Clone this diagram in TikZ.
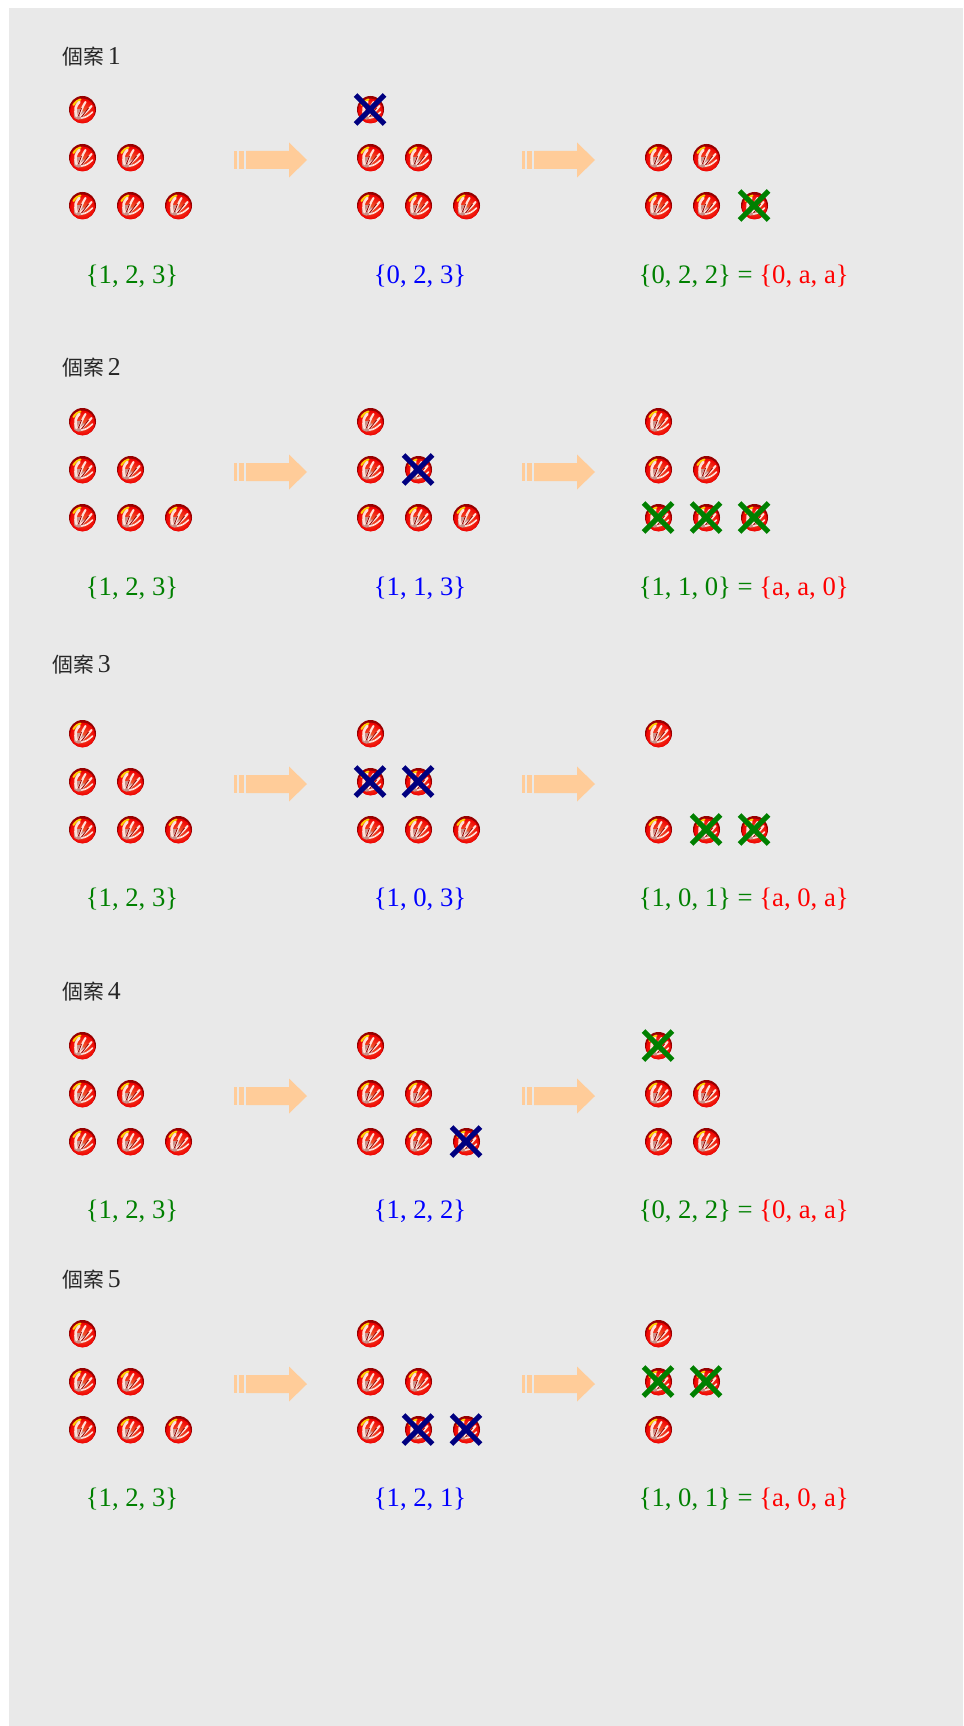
\documentclass[tikz,border=0pt]{standalone}
\usepackage{fontspec}
\setmainfont{Liberation Serif}
\newfontfamily\cjk{Noto Sans CJK TC}
\definecolor{pagegray}{HTML}{E9E9E9}
\definecolor{arrowpeach}{HTML}{FFCC99}
\definecolor{rimred}{HTML}{980000}
\definecolor{ballred}{HTML}{F00000}
\definecolor{ballorange}{HTML}{F06030}
\definecolor{streakpink}{HTML}{FFE0D8}
\definecolor{patchmauve}{HTML}{C89088}
\definecolor{crossnavy}{HTML}{000080}
\definecolor{crossgreen}{HTML}{008000}
\definecolor{setgreen}{HTML}{008000}
\tikzset{
	ball/.pic={
		\fill[rimred] (0,-0.5) circle (13.5);
		\shade[inner color=ballorange, outer color=ballred] (0,1) circle (12.5);
		\draw[yellow!70!orange, line width=1.5pt, line cap=round] (-9,-5) .. controls (-7,-8) and (-5,-10) .. (-2,-10.5);
		\fill[patchmauve] (-8,8) .. controls (-10,3) and (-7,-2) .. (-3,-1) .. controls (2,0) and (4,5) .. (0,9) .. controls (-3,10) and (-6,10) .. cycle;
		\draw[streakpink, line width=2pt, line cap=round] (-6,6) .. controls (-8,0) and (-7,-5) .. (-3,-8);
		\draw[streakpink, line width=1.6pt, line cap=round] (-3,4) .. controls (-1,0) and (1,-5) .. (3,-8);
		\draw[streakpink, line width=1.6pt, line cap=round] (-2,6) .. controls (2,4) and (6,0) .. (9,-4);
		\draw[streakpink, line width=1.2pt, line cap=round] (-1,8) .. controls (3,8) and (7,5) .. (10,2);
		\draw[rimred, line width=0.6pt] (-4,6) -- (-1,-2) (-1,7) -- (6,-2);
	},
	crossmark/.pic={
		\draw[line width=3.9pt, shift={(-0.5,-0.5)}] (-14.5,-14.5) -- (14.5,14.5) (-14.5,14.5) -- (14.5,-14.5);
	},
	movearrow/.pic={
		\fill[arrowpeach] (0,-9) rectangle (3,9);
		\fill[arrowpeach] (5,-9) rectangle (10,9);
		\fill[arrowpeach] (12,-9) -- (55,-9) -- (55,-17.5) -- (73,0) -- (55,17.5) -- (55,9) -- (12,9) -- cycle;
	},
	settext/.style={font=\fontsize{20}{22}\selectfont, inner sep=0pt},
	casetext/.style={font=\fontsize{19.3}{22}\selectfont, inner sep=0pt, anchor=west, text=black!85}
}
% Balls and crosses on the grid of one drawing: column/row from 0
\newcommand{\ballset}[3]{\foreach \i/\j in {#3} {\pic at ({#1+48*\i},{#2+48*\j}) {ball};}}
\newcommand{\fullballs}[2]{\ballset{#1}{#2}{0/0,0/1,1/1,0/2,1/2,2/2}}
\newcommand{\crossset}[4]{\foreach \i/\j in {#4} {\pic[#3] at ({#1+48*\i},{#2+48*\j}) {crossmark};}}
\begin{document}
\begin{tikzpicture}[x=0.75pt, y=-0.75pt, line join=round]
	% Column positions (pixels of the reference)
	\def\xa{82.5} \def\xb{370.5} \def\xc{658.5}
	\def\ya{110} \def\yb{422} \def\yc{734} \def\yd{1046} \def\ye{1334}
	
	\useasboundingbox (0,0) rectangle (963,1726);
	\fill[pagegray] (9,8) rectangle (963,1726);
	
	% Titles, arrows and the two full drawings of each case
	\foreach \c/\y/\tx/\ty in {1/\ya/62/57, 2/\yb/62/368, 3/\yc/52/665, 4/\yd/62/992, 5/\ye/62/1280} {
		\node[casetext] (title\c) at (\tx,\ty) {{\cjk\fontsize{15.6}{18}\selectfont 個案}\kern3pt\c};
		\fullballs{\xa}{\y}
		\fullballs{\xb}{\y}
		\pic at (234,\y+50) {movearrow};
		\pic at (522,\y+50) {movearrow};
	}
	
	% Case 1
	\crossset{\xb}{\ya}{crossnavy}{0/0}
	\ballset{\xc}{\ya}{0/1,1/1,0/2,1/2,2/2}
	\crossset{\xc}{\ya}{crossgreen}{2/2}
	
	% Case 2
	\crossset{\xb}{\yb}{crossnavy}{1/1}
	\fullballs{\xc}{\yb}
	\crossset{\xc}{\yb}{crossgreen}{0/2,1/2,2/2}
	
	% Case 3
	\crossset{\xb}{\yc}{crossnavy}{0/1,1/1}
	\ballset{\xc}{\yc}{0/0,0/2,1/2,2/2}
	\crossset{\xc}{\yc}{crossgreen}{1/2,2/2}
	
	% Case 4
	\crossset{\xb}{\yd}{crossnavy}{2/2}
	\ballset{\xc}{\yd}{0/0,0/1,1/1,0/2,1/2}
	\crossset{\xc}{\yd}{crossgreen}{0/0}
	
	% Case 5
	\crossset{\xb}{\ye}{crossnavy}{1/2,2/2}
	\ballset{\xc}{\ye}{0/0,0/1,1/1,0/2}
	\crossset{\xc}{\ye}{crossgreen}{0/1,1/1}
	
	% Sets below the drawings
	\foreach \c/\y/\mset/\lset/\rset in {
		1/276/{0, 2, 3}/{0, 2, 2}/{0, a, a},
		2/588/{1, 1, 3}/{1, 1, 0}/{a, a, 0},
		3/899/{1, 0, 3}/{1, 0, 1}/{a, 0, a},
		4/1211/{1, 2, 2}/{0, 2, 2}/{0, a, a},
		5/1499/{1, 2, 1}/{1, 0, 1}/{a, 0, a}} {
		\node[settext, text=setgreen] (first\c) at (132,\y) {\{1, 2, 3\}};
		\node[settext, text=blue] (second\c) at (420,\y) {\{\mset\}};
		\node[settext, anchor=west, text=setgreen] (third\c) at (638.5,\y) {\{\lset\} = \textcolor{red}{\{\rset\}}};
	}
\end{tikzpicture}
\end{document}
